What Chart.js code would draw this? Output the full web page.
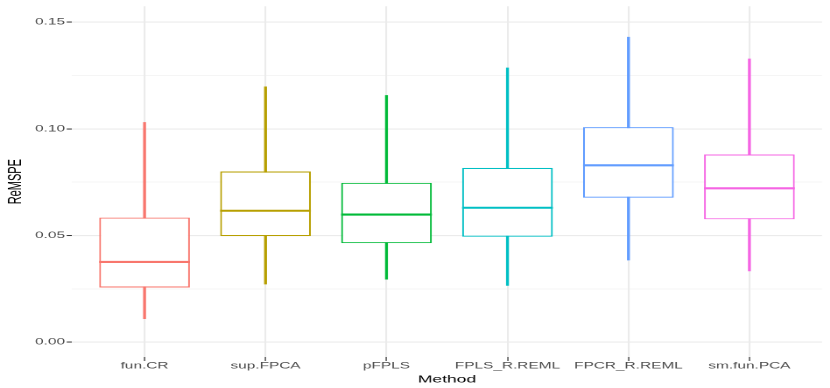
<!DOCTYPE html>
<html><head><meta charset="utf-8">
<script src="https://cdn.jsdelivr.net/npm/chart.js@4.4.1/dist/chart.umd.min.js"></script>
<style>
html,body{margin:0;padding:0;background:#fff;overflow:hidden;width:830px;height:388px;}
#wrap{position:absolute;left:0;top:0;width:474px;height:388px;transform:scaleX(1.7511);transform-origin:0 0;}
#c{display:block;width:474px;height:388px;}
</style></head><body>
<div id="wrap"><canvas id="c" width="474" height="388"></canvas></div>
<script>
const categories = ['fun.CR', 'sup.FPCA', 'pFPLS', 'FPLS_R.REML', 'FPCR_R.REML', 'sm.fun.PCA'];
const whiskerLow  = [0.0110, 0.0272, 0.0295, 0.0266, 0.0385, 0.0334];
const q1          = [0.0256, 0.0497, 0.0464, 0.0494, 0.0677, 0.0576];
const median      = [0.0376, 0.0616, 0.0598, 0.0630, 0.0829, 0.0721];
const q3          = [0.0584, 0.0800, 0.0747, 0.0817, 0.1008, 0.0880];
const whiskerHigh = [0.1030, 0.1197, 0.1157, 0.1286, 0.1430, 0.1328];
const colors = ['#F8766D', '#B79F00', '#00BA38', '#00BFC4', '#619CFF', '#F564E3'];
const yTicks = [0, 0.025, 0.05, 0.075, 0.1, 0.125, 0.15];
const yMajor = [0, 0.05, 0.1, 0.15];

const xPos = categories.map((c, i) => i + 1);
const isMajor = v => yMajor.some(m => Math.abs(m - v) < 1e-9);
const FONT = 'Liberation Sans';

new Chart(document.getElementById('c'), {
  type: 'bar',
  data: {
    datasets: [
      {
        label: 'box',
        data: xPos.map((x, i) => ({ x: x, y: [q1[i], q3[i]] })),
        backgroundColor: '#FFFFFF',
        borderColor: colors,
        borderWidth: 1.07,
        borderSkipped: false,
        categoryPercentage: 0.75,
        barPercentage: 1,
        order: 2
      },
      {
        label: 'whisker',
        data: xPos.map((x, i) => ({ x: x, y: [whiskerLow[i], whiskerHigh[i]] })),
        backgroundColor: colors,
        borderWidth: 0,
        barThickness: 1.0,
        grouped: false,
        order: 3
      },
      {
        type: 'line',
        label: 'median',
        data: xPos.map((x, i) => ({ x: x, y: median[i] })),
        showLine: false,
        pointStyle: 'line',
        pointRadius: c => { const s = c.chart.scales.x; return Math.abs(s.getPixelForValue(1.375) - s.getPixelForValue(1)); },
        pointBorderColor: colors,
        pointBackgroundColor: colors,
        pointBorderWidth: 2.1,
        order: 1
      }
    ]
  },
  options: {
    responsive: false,
    devicePixelRatio: 2,
    animation: false,
    events: [],
    layout: { padding: { left: 0, right: 4.6, top: 4, bottom: 0 } },
    plugins: { legend: { display: false }, tooltip: { enabled: false } },
    scales: {
      x: {
        type: 'linear', min: 0.4, max: 6.6, offset: false,
        afterBuildTicks: s => { s.ticks = xPos.map(v => ({ value: v })); },
        afterFit: s => { s.height = 31; },
        ticks: {
          callback: v => categories[Math.round(v) - 1],
          color: '#4D4D4D', font: { family: FONT, size: 8.8 }, padding: 0,
          maxRotation: 0, autoSkip: false
        },
        grid: { offset: false, color: '#EBEBEB', lineWidth: 1.07, drawTicks: true, tickLength: 4, tickColor: '#333333', tickWidth: 0.65 },
        border: { display: false },
        title: { display: true, text: 'Method', color: '#000000', font: { family: FONT, size: 10 }, padding: { top: 0, bottom: 2.5 } }
      },
      y: {
        min: -0.007, max: 0.1575,
        afterBuildTicks: s => { s.ticks = yTicks.map(v => ({ value: v })); },
        afterFit: s => { s.width = 41.1; },
        ticks: {
          callback: v => isMajor(v) ? v.toFixed(2) : '',
          color: '#4D4D4D', font: { family: FONT, size: 8.8 }, padding: 1
        },
        grid: {
          color: '#EBEBEB',
          lineWidth: c => (c.tick && isMajor(c.tick.value)) ? 1.07 : 0.55,
          drawTicks: true, tickLength: 3,
          tickColor: c => (c.tick && isMajor(c.tick.value)) ? '#333333' : 'rgba(0,0,0,0)',
          tickWidth: 1
        },
        border: { display: false },
        title: { display: true, text: 'ReMSPE', color: '#000000', font: { family: FONT, size: 11 }, padding: { top: 2.6, bottom: 0 } }
      }
    }
  }
});
</script>
</body></html>
